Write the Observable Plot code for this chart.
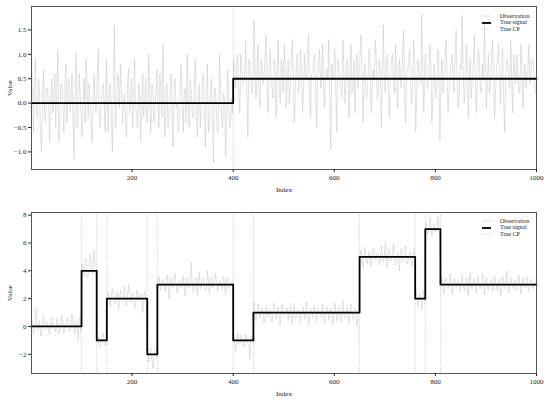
<!DOCTYPE html>
<html>
<head>
<meta charset="utf-8">
<script src="https://cdn.jsdelivr.net/npm/d3@7"></script>
<script src="https://cdn.jsdelivr.net/npm/@observablehq/plot@0.6"></script>
<style>
  body { margin: 0; background: #fff; }
  #wrap { position: relative; width: 550px; height: 403px; font-family: "Liberation Serif", "DejaVu Serif", serif; }
  .panel { position: absolute; left: 0; }
  .legend { position: absolute; font-size: 6px; color: #222; line-height: 6.8px; }
  .legend .row { display: flex; align-items: center; height: 6.8px; }
  .legend svg { margin-right: 9px; }
</style>
</head>
<body>
<div id="wrap"></div>
<script>
// ---------- Panel 1: single change point ----------
// observations read off the picture: series A at indices 1,5,9,...; series B at indices 3,7,11,...
const topObsA = [
  0.8, -0.6, 0.9, -0.3, 0.2, -1.0, 0.7, -0.4, 0.3, -0.8, 0.5, 0.1, -0.5, 1.1, -0.3, 0.4, -0.6, 0.8, 0.2, -0.2, 0.6, -1.15, 1.05, -0.4, 0.3,
  -0.7, 0.5, 0.9, -0.3, 0.1, -0.8, 0.6, -0.2, 1.1, -0.5, 0.3, -0.1, 0.9, -0.6, 0.4, -1.0, 1.6, -0.3, 0.5, 0.8, -0.4, 0.2, -0.7, 0.7, 0.1,
  -0.5, 0.9, -0.2, 0.4, -0.8, 0.6, 0.1, -0.4, 1.0, -0.6, 0.3, -0.2, 0.7, -0.5, 0.2, 1.2, -0.7, 0.4, -0.3, 0.6, -0.9, 0.5, 0.0, -0.4, 0.8,
  -0.6, 0.3, 1.0, -0.5, 0.2, -0.3, 0.9, -0.7, 0.4, -0.1, 0.6, -0.9, 0.8, -0.4, 0.5, -1.22, 0.3, -0.6, 1.0, -0.3, 0.2, -1.1, 0.7, -0.5, 0.1,
  0.9, 0.3, 1.0, -0.2, 0.8, 0.4, 1.3, -0.7, 0.9, 0.2, 1.7, 0.1, 1.2, -0.1, 0.8, 0.5, 1.4, -0.2, 1.1, 0.3, 0.9, -0.3, 1.3, 0.0, 0.7,
  1.2, -0.1, 0.9, 0.4, 1.3, -0.4, 0.8, 0.2, 1.1, -0.2, 1.0, 0.5, 1.4, -0.3, 0.6, 1.0, -0.5, 0.9, 0.3, 1.2, -0.1, 0.7, 1.3, -0.95, 0.5,
  1.1, -0.6, 0.8, 0.3, 1.3, 0.0, 0.9, -0.3, 1.2, 0.4, -0.2, 1.0, 0.6, 1.4, -0.4, 0.8, 0.2, 1.1, -0.2, 0.7, 1.3, 0.1, 0.9, -0.5, 1.6,
  0.2, 1.0, -0.3, 0.8, 0.4, 1.2, -0.1, 0.9, 0.3, 1.5, -0.4, 0.7, 1.1, 0.0, 1.3, -0.6, 0.9, 0.5, 1.82, -0.2, 1.0, 0.3, 1.2, -0.4, 0.8,
  0.1, 1.1, -0.75, 0.9, 0.4, 1.3, -0.2, 0.7, 1.0, 0.2, 1.5, -0.1, 0.8, 1.8, 0.0, 1.2, -0.3, 0.9, 0.5, 1.4, -0.2, 1.1, 0.3, 0.8, 1.6,
  -0.1, 1.0, 0.4, 1.3, -0.3, 0.8, 1.2, 0.0, 1.1, -0.6, 0.9, 0.5, 1.3, -0.2, 0.7, 1.0, 0.2, 1.2, -0.1, 0.8, 0.4, 1.2, 0.6, 0.9, 0.3
];
const topObsB = [
  0.2, 0.4, -0.2, 0.5, -0.7, 0.1, -0.3, 0.3, -0.1, 0.0, -0.2, 0.6, 0.2, -0.8, 0.4, -0.1, 0.3, -0.4, 0.5, 0.0, -0.3, 0.2, -0.5, 0.6, -0.2,
  0.1, -0.4, 0.3, 0.4, -0.5, 0.2, -0.1, 0.5, -0.3, 0.0, 0.4, -0.6, 0.1, 0.3, -0.2, 0.2, -0.5, 0.6, -0.1, 0.3, 0.0, -0.4, 0.4, -0.2, 0.5,
  0.3, -0.1, -0.5, 0.2, 0.1, -0.3, 0.5, -0.2, 0.0, 0.4, -0.4, 0.2, -0.1, 0.6, -0.3, 0.1, 0.3, -0.5, 0.2, -0.2, 0.4, -0.1, -0.6, 0.3, 0.0,
  0.2, -0.4, 0.1, 0.5, -0.3, 0.3, -0.2, 0.0, -0.5, 0.4, -0.1, 0.2, -0.6, 0.1, -0.3, 0.3, -0.2, -0.4, 0.2, -0.5, 0.1, -0.3, 0.0, -0.4, -0.2,
  0.6, 0.8, 0.2, 1.0, 0.4, 0.7, 0.1, 0.9, 0.5, 0.3, 0.8, 0.6, 0.2, 0.9, 0.4, 1.0, 0.3, 0.7, 0.5, 0.1, 0.8, 0.6, 0.4, 0.9, 0.2,
  0.7, 0.5, 0.0, 0.8, 0.6, 0.3, 1.0, 0.4, 0.7, 0.2, 0.5, 0.9, 0.1, 0.6, 0.8, 0.3, 0.5, 1.1, 0.4, 0.2, 0.7, 0.5, 0.0, 0.8, 0.6,
  0.3, 0.9, 0.5, 0.1, 0.7, 0.4, 0.8, 0.6, 0.2, 0.9, 0.5, 0.3, 1.0, 0.4, 0.7, 0.1, 0.6, 0.8, 0.3, 0.5, 0.9, 0.2, 0.7, 0.4, 0.6,
  0.8, 0.3, 0.6, 1.0, 0.2, 0.5, 0.7, 0.4, 0.9, 0.1, 0.6, 0.8, 0.3, 0.5, 1.0, 0.2, 0.7, 0.4, 0.6, 0.9, 0.3, 0.5, 0.8, 0.1, 0.6,
  0.4, 0.7, 0.5, 0.2, 0.9, 0.6, 0.3, 0.8, 0.4, 1.0, 0.5, 0.2, 0.7, 0.6, 0.3, 0.9, 0.5, 0.1, 0.8, 0.4, 0.6, 0.9, 0.2, 0.5, 0.7,
  0.5, 0.2, 0.8, 0.6, 0.3, 0.9, 0.4, 0.7, 0.1, 0.6, 0.8, 0.3, 0.5, 1.0, 0.4, 0.6, 0.2, 0.8, 0.5, 0.3, 0.7, 0.4, 0.9, 0.6, 0.2
];
const topBreaks = [1, 400, 1000];      // segment boundaries
const topLevels = [0, 0.5];            // true signal level per segment
const topCP = [400];                   // true change points
const topYTicks = [-1.0, -0.5, 0.0, 0.5, 1.0, 1.5];
const topYDomain = [-1.36, 1.98];

// ---------- Panel 2: multiple change points ----------
const botObsA = [
  0.6, -0.5, 1.3, -0.3, 0.4, -0.7, 0.8, -0.2, 0.3, -0.6, 0.7, 0.0, -0.4, 0.5, -0.3, 0.8, -0.5, 0.2, 0.6, -0.4, 0.9, -0.2, 0.4, -1.1, 0.7,
  4.5, 3.6, 4.9, 3.7, 5.2, 3.8, 5.5, 4.2,
  -0.8, -1.5, -0.6, -1.3, -0.9,
  2.5, 1.4, 2.7, 1.6, 2.3, 1.2, 2.6, 1.8, 2.9, 1.5, 3.0, 1.7, 2.4, 1.3, 2.6, 1.9, 2.3, 1.0, 2.5, 1.5,
  -2.6, -1.5, -3.0, -1.7, -2.3,
  3.6, 2.6, 3.4, 2.5, 3.7, 2.0, 3.5, 2.7, 3.8, 2.4, 3.3, 2.8, 3.6, 2.2, 3.5, 2.9, 4.6, 2.5, 3.4, 2.3, 3.9, 2.7, 3.5, 2.6, 4.0, 2.4, 3.6, 2.8, 3.8, 2.5, 3.3, 2.7, 3.6, 2.3, 3.5, 2.9, 3.2,
  -0.7, -1.8, -0.5, -1.3, -0.8, -1.5, -0.6, -1.2, -2.3, -0.9,
  1.8, 0.4, 1.6, 0.6, 1.3, 0.2, 1.5, 0.7, 1.2, 0.3, 1.7, 0.5, 1.4, 0.1, 1.6, 0.8, 1.3, 0.4, 1.5, 0.2, 1.7, 0.6, 1.2, 0.3, 1.4, 0.5, 1.8, 0.1, 1.3, 0.6, 1.5, 0.3, 1.2, 0.7, 1.6, 0.2, 1.4, 0.5, 1.3, 0.1, 1.7, 0.4, 1.5, 0.3, 1.9, 0.6, 1.4, 0.2, 1.6, 0.5, 1.3, 0.0, 1.1,
  5.5, 4.2, 5.7, 4.5, 5.4, 4.3, 5.6, 4.8, 5.3, 4.4, 5.8, 4.6, 6.1, 4.2, 5.5, 4.7, 5.9, 4.4, 5.3, 4.0, 5.6, 4.7, 5.8, 4.5, 5.4, 4.3, 5.6,
  2.8, 1.5, 2.4, 1.2, 2.6,
  7.5, 6.6, 7.8, 6.5, 7.4, 6.8, 7.9, 6.6,
  3.6, 2.4, 3.5, 2.7, 3.8, 2.3, 3.4, 2.8, 3.3, 2.5, 3.7, 2.6, 3.5, 2.2, 3.9, 2.7, 3.4, 2.4, 3.6, 2.8, 3.8, 2.3, 3.5, 2.6, 3.3, 2.5, 3.7, 2.9, 3.4, 2.2, 3.6, 2.7, 4.0, 2.4, 3.5, 2.8, 3.3, 2.6, 3.7, 2.3, 3.5, 2.8, 3.6, 2.5, 3.4, 2.7, 3.2
];
const botObsB = [
  0.2, -0.3, 0.5, 0.1, -0.6, 0.3, -0.1, 0.4, -0.4, 0.2, 0.0, -0.2, 0.6, -0.5, 0.1, 0.3, -0.2, 0.5, -0.3, 0.0, 0.4, -0.6, 0.2, 0.3, -0.4,
  4.2, 4.6, 3.5, 4.3, 4.8, 3.9, 4.4,
  -1.2, -0.7, -1.1, -0.5, -1.4,
  2.1, 1.8, 2.4, 2.2, 1.7, 2.5, 1.9, 2.3, 2.0, 1.6, 2.2, 2.6, 1.8, 2.1, 1.5, 2.4, 2.0, 1.7, 2.2, 1.9,
  -2.2, -1.8, -2.4, -2.1, -1.6,
  3.2, 2.9, 3.3, 3.0, 2.7, 3.4, 3.1, 2.8, 3.5, 3.0, 2.6, 3.2, 3.1, 2.9, 3.4, 2.7, 3.3, 3.0, 2.8, 3.5, 3.1, 2.9, 3.2, 3.0, 2.6, 3.3, 3.1, 2.8, 3.4, 3.0, 2.9, 3.2, 2.7, 3.1, 3.3, 2.8, 3.0, 3.2,
  -1.1, -0.8, -1.3, -0.6, -1.0, -1.2, -0.9, -1.4, -0.7, -1.0,
  1.1, 0.8, 1.3, 0.9, 1.0, 0.6, 1.2, 1.0, 0.7, 1.4, 0.9, 1.1, 0.5, 1.2, 0.8, 1.0, 1.3, 0.7, 1.1, 0.9, 0.6, 1.2, 1.0, 0.8, 1.4, 0.9, 1.1, 0.7, 1.0, 1.2, 0.8, 1.3, 0.9, 1.1, 0.6, 1.0, 1.2, 0.8, 1.1, 0.9, 1.3, 0.7, 1.0, 1.2, 0.8, 1.1, 0.9, 1.4, 1.0, 0.7, 1.2, 0.9,
  5.1, 4.8, 5.3, 4.9, 5.0, 4.6, 5.2, 5.4, 4.8, 5.1, 4.7, 5.3, 5.0, 4.9, 5.5, 4.8, 5.2, 5.0, 4.6, 5.3, 5.1, 4.9, 5.2, 4.7, 5.0, 5.3, 4.8, 5.1,
  2.2, 1.8, 2.0, 2.3, 1.7,
  7.2, 6.9, 7.4, 7.0, 6.8, 7.3, 7.1,
  3.1, 2.8, 3.3, 3.0, 2.9, 3.2, 2.7, 3.4, 3.0, 2.8, 3.2, 3.1, 2.6, 3.3, 3.0, 2.9, 3.4, 2.8, 3.1, 3.0, 2.7, 3.3, 3.2, 2.9, 3.0, 3.4, 2.8, 3.1, 2.6, 3.2, 3.0, 2.9, 3.3, 3.1, 2.7, 3.2, 3.0, 2.8, 3.4, 3.1, 2.9, 3.0, 3.2, 2.8, 3.3, 3.0, 2.9, 3.1
];
const botBreaks = [1, 100, 130, 150, 230, 250, 400, 440, 650, 760, 780, 810, 1000];
const botLevels = [0, 4, -1, 2, -2, 3, -1, 1, 5, 2, 7, 3];
const botCP = [100, 130, 150, 230, 250, 400, 440, 650, 760, 780, 810];
const botYTicks = [-2, 0, 2, 4, 6, 8];
const botYDomain = [-3.38, 8.19];

const xTicks = [200, 400, 600, 800, 1000];
const legendLabels = ["Observation", "True signal", "True CP"];

// ---------- helpers ----------
// series A sits at indices 1,5,9,..., series B at 3,7,11,...
function obsTable(a, b) {
  const t = a.map((v, i) => ({x: 1 + i * 4, y: v})).concat(b.map((v, i) => ({x: 3 + i * 4, y: v})));
  return t.sort((p, q) => p.x - q.x);
}
function signalTable(breaks, levels) {
  const t = levels.map((l, i) => ({x: breaks[i], y: l}));
  t.push({x: breaks[breaks.length - 1], y: levels[levels.length - 1]});
  return t;
}

const FONT = '"Liberation Serif", "DejaVu Serif", serif';

function panel({obsA, obsB, breaks, levels, cps, yTicks, yDomain, height, marginTop, marginBottom, yFmt}) {
  return Plot.plot({
    width: 550,
    height,
    marginLeft: 31,
    marginRight: 14,
    marginTop,
    marginBottom,
    style: {fontFamily: FONT, fontSize: "7px", color: "#222", background: "white"},
    x: {domain: [1, 1000]},
    y: {domain: yDomain},
    marks: [
      Plot.ruleX(cps, {stroke: "#aaa", strokeWidth: 0.7, strokeDasharray: "1,1.6"}),
      Plot.line(obsTable(obsA, obsB), {x: "x", y: "y", stroke: "#c8c8c8", strokeWidth: 0.55}),
      Plot.line(signalTable(breaks, levels), {x: "x", y: "y", stroke: "black", strokeWidth: 1.8, curve: "step-after"}),
      Plot.frame({stroke: "#444", strokeWidth: 0.9}),
      Plot.axisX({ticks: xTicks, tickSize: 3, tickPadding: 3, tickFormat: d3.format("d"), fontSize: 7,
                  label: "Index", labelAnchor: "center", labelArrow: "none", labelOffset: 22}),
      Plot.axisY({ticks: yTicks, tickSize: 3, tickPadding: 2, tickFormat: yFmt, fontSize: 7,
                  label: "Value", labelAnchor: "center", labelArrow: "none", labelOffset: 24})
    ]
  });
}

const wrap = document.getElementById("wrap");

const p1 = panel({obsA: topObsA, obsB: topObsB, breaks: topBreaks, levels: topLevels, cps: topCP,
  yTicks: topYTicks, yDomain: topYDomain, height: 200, marginTop: 6, marginBottom: 31, yFmt: d3.format(".1f")});
p1.classList.add("panel"); p1.style.top = "0px";
wrap.appendChild(p1);

const p2 = panel({obsA: botObsA, obsB: botObsB, breaks: botBreaks, levels: botLevels, cps: botCP,
  yTicks: botYTicks, yDomain: botYDomain, height: 203, marginTop: 12, marginBottom: 30, yFmt: d3.format("d")});
p2.classList.add("panel"); p2.style.top = "200px";
wrap.appendChild(p2);

// ---------- legends ----------
const legendStyles = [
  {stroke: "#c8c8c8", width: 0.6, dash: null},
  {stroke: "black", width: 1.8, dash: null},
  {stroke: "#aaa", width: 0.7, dash: "1,1.6"}
];
function legend(top) {
  const div = document.createElement("div");
  div.className = "legend";
  div.style.left = "482px";
  div.style.top = top + "px";
  legendLabels.forEach((lab, i) => {
    const s = legendStyles[i];
    const row = document.createElement("div");
    row.className = "row";
    row.innerHTML = `<svg width="9" height="4"><line x1="0" x2="9" y1="2" y2="2" stroke="${s.stroke}" stroke-width="${s.width}" ${s.dash ? `stroke-dasharray="${s.dash}"` : ""}/></svg><span>${lab}</span>`;
    div.appendChild(row);
  });
  wrap.appendChild(div);
}
legend(12.5);
legend(217.5);
</script>
</body>
</html>
